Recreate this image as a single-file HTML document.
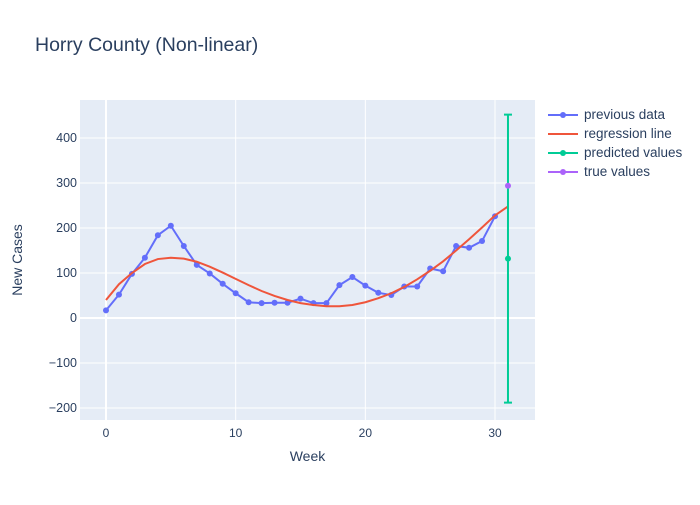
<!DOCTYPE html>
<html><head><meta charset="utf-8"><style>
body{margin:0;background:#fff;font-family:"Liberation Sans",Arial,sans-serif}
svg text{font-family:"Liberation Sans",Arial,sans-serif}
</style></head><body>
<svg id="chart" width="700" height="500" xmlns="http://www.w3.org/2000/svg"></svg>
<script>
const weeks=[0,1,2,3,4,5,6,7,8,9,10,11,12,13,14,15,16,17,18,19,20,21,22,23,24,25,26,27,28,29,30];
const previousData=[17,52,98,134,184,205,160,118,99,76,55,35,33,34,34,43,33,33,73,91,72,56,51,70,70,110,104,160,156,171,226];
const regWeeks=[0,1,2,3,4,5,6,7,8,9,10,11,12,13,14,15,16,17,18,19,20,21,22,23,24,25,26,27,28,29,30,31];
const regValues=[40,75,100,120,131,134,132,125,114,101,87,73,60,49,40,33,29,26,26,29,35,44,55,69,86,105,126,150,175,201,228,248];
const predWeek=[31];
const predValue=[132];
const predUpper=[452];
const predLower=[-188];
const trueWeek=[31];
const trueValue=[294];
const xTicks=[0,10,20,30];
const yTicks=[-200,-100,0,100,200,300,400];
const yTickLabels=["−200","−100","0","100","200","300","400"];
const legendLabels=["previous data","regression line","predicted values","true values"];

const L=80,R=535,T=100,B=420;
const x=v=>106+(v-0)*12.967;
const y=v=>318-v*0.45;
const svg=document.getElementById('chart');
const NS="http://www.w3.org/2000/svg";
function mk(tag,attrs,parent){const e=document.createElementNS(NS,tag);for(const k in attrs)e.setAttribute(k,attrs[k]);(parent||svg).appendChild(e);return e;}

const bg=mk('rect',{x:L,y:T,width:R-L,height:B-T,fill:'#e5ecf6'});



xTicks.forEach(t=>{
  const g=mk('line',{x1:x(t),x2:x(t),y1:T,y2:B,stroke:'#fff','stroke-width':t===0?2:1});
  
  
  const tx=mk('text',{x:x(t),y:B+17,'text-anchor':'middle','font-size':12,fill:'#2a3f5f'});
  tx.textContent=t;
  
  
});
yTicks.forEach((t,i)=>{
  const g=mk('line',{x1:L,x2:R,y1:y(t),y2:y(t),stroke:'#fff','stroke-width':t===0?2:1});
  
  
  const tx=mk('text',{x:L-3,y:y(t)+4,'text-anchor':'end','font-size':12.5,fill:'#2a3f5f'});
  tx.textContent=yTickLabels[i];
  
  
});

const p1=mk('polyline',{points:weeks.map((w,i)=>x(w)+','+y(previousData[i])).join(' '),fill:'none',stroke:'#636efa','stroke-width':2});


weeks.forEach((w,i)=>{
  const c=mk('circle',{cx:x(w),cy:y(previousData[i]),r:3,fill:'#636efa'});
  
  
});
const p2=mk('polyline',{points:regWeeks.map((w,i)=>x(w)+','+y(regValues[i])).join(' '),fill:'none',stroke:'#EF553B','stroke-width':2});


predWeek.forEach((w,i)=>{
  const e=mk('path',{d:`M${x(w)},${y(predUpper[i])}V${y(predLower[i])}M${x(w)-4},${y(predUpper[i])}H${x(w)+4}M${x(w)-4},${y(predLower[i])}H${x(w)+4}`,stroke:'#00cc96','stroke-width':2,fill:'none'});
  
  
  const c=mk('circle',{cx:x(w),cy:y(predValue[i]),r:3,fill:'#00cc96'});
  
  
});
trueWeek.forEach((w,i)=>{
  const c=mk('circle',{cx:x(w),cy:y(trueValue[i]),r:3,fill:'#ab63fa'});
  
  
});

const title=mk('text',{x:35,y:51,'font-size':19.5,fill:'#2a3f5f'});
title.textContent='Horry County (Non-linear)';


const xt=mk('text',{x:(L+R)/2,y:461,'text-anchor':'middle','font-size':14,fill:'#2a3f5f'});
xt.textContent='Week';


const yt=mk('text',{x:22,y:260,'text-anchor':'middle','font-size':14,fill:'#2a3f5f',transform:'rotate(-90 22 260)'});
yt.textContent='New Cases';



const colors=['#636efa','#EF553B','#00cc96','#ab63fa'];
legendLabels.forEach((lab,i)=>{
  const ly=115+i*19;
  const g=mk('g',{});
  
  
  mk('line',{x1:548,x2:578,y1:ly,y2:ly,stroke:colors[i],'stroke-width':2},g);
  if(i!==1) mk('circle',{cx:563,cy:ly,r:3,fill:colors[i]},g);
  const t=mk('text',{x:584,y:ly+4,'font-size':13.5,fill:'#2a3f5f'},g);
  t.textContent=lab;
});
</script>
</body></html>
